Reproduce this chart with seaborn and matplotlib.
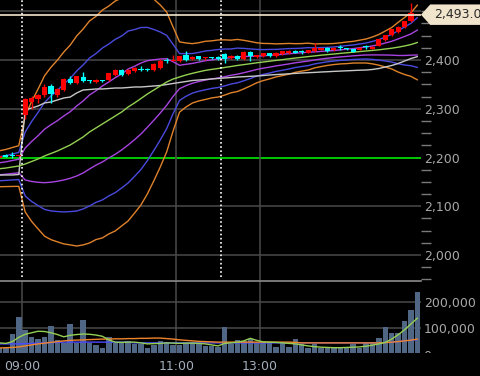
import numpy as np
import pandas as pd
import matplotlib
matplotlib.use("Agg")
import matplotlib.pyplot as plt
from matplotlib.patches import Polygon, Rectangle
from matplotlib.ticker import MultipleLocator, FixedLocator
from matplotlib.transforms import blended_transform_factory
import seaborn as sns

# 5-minute bars, numbered from the 09:00 open.
# -4..-1 = end of previous session, 0..30 = 09:00-11:30, 31..61 = 12:30-15:00
bar_no = np.arange(-4, 62)
time_ticks = [-0.5, 23.5, 36.5]
time_labels = ["09:00", "11:00", "13:00"]
session_breaks = [-0.5, 30.5]

opens = [2200, 2205, 2205, 2204,
         2287, 2314, 2320, 2328, 2347, 2328, 2338, 2361, 2353, 2365, 2358, 2355, 2358, 2359, 2369, 2379,
         2371, 2377, 2382, 2381, 2379, 2384, 2400, 2399, 2398, 2410, 2402, 2408, 2404, 2405, 2406,
         2412, 2404, 2408, 2402, 2416, 2406, 2408, 2414, 2408, 2412, 2414, 2418, 2417, 2415, 2418,
         2421, 2425, 2421, 2425, 2423, 2422, 2421, 2427, 2423, 2429, 2441, 2451, 2457, 2468, 2480, 2493]
highs = [2205, 2207, 2212, 2205,
         2322, 2326, 2330, 2350, 2350, 2342, 2363, 2367, 2368, 2375, 2360, 2362, 2359, 2374, 2381, 2381,
         2381, 2386, 2387, 2383, 2393, 2402, 2404, 2410, 2409, 2418, 2408, 2409, 2407, 2407, 2408,
         2414, 2410, 2410, 2418, 2418, 2411, 2415, 2415, 2416, 2419, 2420, 2420, 2420, 2421, 2435,
         2425, 2426, 2426, 2430, 2425, 2423, 2426, 2431, 2428, 2444, 2452, 2464, 2469, 2481, 2517, 2493]
lows = [2199, 2201, 2200, 2203,
        2280, 2300, 2312, 2325, 2312, 2325, 2336, 2350, 2351, 2355, 2352, 2353, 2355, 2357, 2368, 2367,
        2369, 2375, 2377, 2378, 2378, 2382, 2394, 2397, 2396, 2398, 2400, 2400, 2401, 2402, 2400,
        2394, 2402, 2400, 2400, 2398, 2405, 2407, 2407, 2407, 2411, 2413, 2414, 2413, 2414, 2417,
        2420, 2417, 2419, 2420, 2421, 2416, 2420, 2423, 2422, 2428, 2440, 2450, 2455, 2466, 2478, 2493]
closes = [2204, 2202, 2204, 2204,
          2320, 2322, 2328, 2345, 2330, 2340, 2361, 2353, 2367, 2357, 2356, 2359, 2357, 2373, 2379, 2369,
          2379, 2384, 2380, 2379, 2392, 2398, 2398, 2401, 2408, 2400, 2406, 2402, 2406, 2404, 2402,
          2402, 2408, 2402, 2416, 2408, 2410, 2414, 2408, 2415, 2418, 2419, 2415, 2416, 2420, 2425,
          2424, 2418, 2425, 2424, 2422, 2417, 2425, 2426, 2427, 2443, 2451, 2463, 2468, 2480, 2497, 2493]

bb_mid = [2177, 2178.5, 2180.6, 2182.6,
          2186.7, 2191.9, 2197.0, 2203.2, 2208.3, 2213.4, 2219.6, 2225.7, 2233.9, 2242.1, 2252.4,
          2260.6, 2268.8, 2277.0, 2285.2, 2293.4, 2303.6, 2311.9, 2321.1, 2330.3, 2338.5, 2346.7,
          2354.9, 2361.0, 2365.2, 2369.3, 2372.7, 2375.8, 2378.7, 2380.8, 2382.6,
          2384.7, 2386.7, 2388.8, 2390.6, 2392.4, 2394.3, 2395.9, 2397.5, 2399.2, 2400.8, 2402.5,
          2404.1, 2405.5, 2407.0, 2408.4, 2409.9, 2411.1, 2412.3, 2413.6, 2414.8, 2416.0, 2417.3,
          2418.5, 2419.7, 2420.9, 2422.6, 2424.2, 2426.3, 2428.8, 2431.8, 2436.0]
bb_sigma = [12.3, 12.7, 13.3, 13.9,
            32.8, 41.0, 47.8, 54.8, 58.9, 62.1, 65.6, 68.3, 71.8, 73.8, 75.9, 76.3, 77.9, 77.9,
            78.6, 77.9, 77.9, 75.3, 72.8, 68.3, 62.1, 55.4, 47.8, 35.5, 24.0, 21.9, 20.3, 19.9,
            19.9, 19.5, 19.5,
            18.9, 18.0, 17.8, 16.6, 15.2, 13.7, 12.7, 12.1, 11.3, 10.9, 10.5, 9.8, 9.4, 9.2, 8.2,
            7.8, 7.4, 7.2, 7.2, 7.4, 7.4, 7.8, 8.2, 9.2, 10.5, 12.3, 14.2, 17.0, 19.5, 21.8, 25.6]
# grey line (session VWAP-like average)
avg_line = [2164.0, 2164.2, 2164.2, 2165.2,
            2297.5, 2301.6, 2305.7, 2311.9, 2313.9, 2318.0, 2322.1, 2324.1, 2332.4, 2338.5, 2339.5,
            2340.6, 2340.6, 2341.6, 2342.6, 2342.6, 2343.6, 2344.7, 2344.7, 2345.7, 2346.7, 2347.8,
            2349.8, 2351.9, 2353.9, 2355.9, 2358.0, 2359.0, 2360.0, 2361.1, 2362.1,
            2363.1, 2364.1, 2365.2, 2365.8, 2366.6, 2367.2, 2368.2, 2369.3, 2370.1, 2370.9, 2371.7,
            2372.5, 2373.4, 2374.0, 2374.6, 2375.4, 2376.0, 2376.7, 2377.3, 2377.9, 2378.5, 2379.1,
            2379.5, 2380.6, 2382.6, 2385.7, 2388.8, 2392.9, 2398.0, 2403.1, 2407.0]

last_price = 2493.0

# volume (shares) and its three averages
volume = [19000, 19000, 75000, 141000,
          91000, 62000, 55000, 64000, 107000, 51000, 38000, 113000, 38000, 130000, 41000, 30000,
          21000, 62000, 38000, 38000, 47000, 34000, 36000, 21000, 32000, 49000, 42000, 32000, 32000,
          38000, 42000, 38000, 29000, 28000, 22000,
          101000, 36000, 51000, 49000, 54000, 38000, 38000, 45000, 25000, 45000, 25000, 55000, 36000,
          21000, 34000, 18000, 18000, 25000, 25000, 25000, 36000, 18000, 38000, 42000, 60000, 101000,
          78000, 80000, 126000, 170000, 242000]
vol_ma_green = [40000, 38000, 45000, 62000,
                74000, 80000, 86000, 85000, 80000, 73000, 64000, 70000, 73000, 75000, 74000, 71000,
                66000, 52000, 43000, 42000, 43000, 43000, 40000, 36000, 37000, 38000, 40000, 39000,
                38000, 39000, 39000, 38000, 36000, 32000, 28000,
                38000, 40000, 43000, 48000, 58000, 50000, 44000, 43000, 42000, 40000, 38000, 36000,
                32000, 28000, 25000, 23000, 22000, 21000, 21000, 22000, 23000, 24000, 27000, 31000,
                36000, 42000, 55000, 72000, 92000, 115000, 138000]
vol_ma_orange = [20000, 21000, 22000, 24000,
                 28000, 32000, 36000, 39000, 42000, 45000, 48000, 50000, 51000, 52000, 53000, 54000,
                 55000, 55000, 56000, 56000, 57000, 57000, 58000, 58000, 59000, 59000, 57000, 55000,
                 52000, 50000, 48000, 46000, 45000, 44000, 43000,
                 43000, 43000, 43000, 43000, 43000, 43000, 43000, 43000, 43000, 43000, 43000, 42000,
                 40000, 40000, 40000, 40000, 40000, 40000, 40000, 40000, 40000, 40000, 40000, 40000,
                 40000, 41000, 43000, 45000, 48000, 51000, 55000]
vol_ma_blue = [36000, 36000, 36000, 36000,
               37000, 38000, 39000, 40000, 41000, 42000, 43000, 43000, 43000, 43000, 43000, 43000,
               43000, 43000, 43000, 43000, 43000, 40000, 40000, 40000, 40000, 40000, 40000, 40000,
               40000, 40000, 40000, 40000, 40000, 40000, 40000,
               40000, 40000, 40000, 40000, 40000, 40000, 40000, 40000, 40000, 40000, 40000, 40000,
               40000, 40000, 40000, 40000, 40000, 40000, 40000, 40000, 40000, 40000, 40000, 40000,
               40000, 41000, 43000, 45000, 48000, 51000, 53000]

# colours
BG = "black"
GRID = "#4a4a4a"
TXT = "#a8a8a8"
UP = "#ff0000"
DOWN = "#00ffff"
ORANGE = "#e0822a"
BLUE = "#4a4ade"
PURPLE = "#a844e0"
GREEN = "#94d052"
GREY = "#c8c8c8"
VOLBAR = "#4f6784"

sns.set_style("dark", {"axes.facecolor": BG, "figure.facecolor": BG})
plt.rcParams["font.family"] = ["DejaVu Sans"]

fig = plt.figure(figsize=(4.8, 3.76), dpi=100)
ax = fig.add_axes([0, 96 / 376, 421 / 480, 280 / 376])
axv = fig.add_axes([0, 23 / 376, 421 / 480, 72 / 376])

xlim = (-3.92, 61.55)

# ---------- price panel ----------
for p in [2000, 2100, 2300, 2400, 2500]:
    ax.axhline(p, color=GRID, lw=1.1, zorder=1)
ax.axhline(2200, color="#00ff00", lw=1.1, zorder=1)
for t in time_ticks[1:]:
    ax.axvline(t, color=GRID, lw=1.1, zorder=1)

bands = pd.DataFrame({"bar": bar_no, "mid": bb_mid, "sigma": bb_sigma, "avg": avg_line})
for k, col in [(3, ORANGE), (2, BLUE), (1, PURPLE)]:
    for sgn in (1, -1):
        sns.lineplot(x=bands["bar"], y=bands["mid"] + sgn * k * bands["sigma"],
                     color=col, lw=1.0, ax=ax, zorder=2)
sns.lineplot(data=bands, x="bar", y="avg", color=GREY, lw=1.0, ax=ax, zorder=2)
sns.lineplot(data=bands, x="bar", y="mid", color=GREEN, lw=1.0, ax=ax, zorder=2)

# candles
o = np.array(opens, float)
c = np.array(closes, float)
cols = np.where(c >= o, UP, DOWN)
ax.vlines(bar_no, lows, highs, colors=cols, lw=1.0, zorder=4)
body_lo = np.minimum(o, c)
body_h = np.maximum(np.abs(c - o), 2.0)
ax.bar(bar_no, body_h, bottom=body_lo, width=0.8, color=cols, linewidth=0, zorder=5)

ax.axhline(last_price, color="#f3e6cc", lw=1.2, zorder=6)
for b in session_breaks:
    ax.axvline(b, ymin=0.012, ymax=1, color="white", lw=1.2, ls=(0, (1, 1.5)), zorder=7)

ax.set_xlim(*xlim)
ax.set_ylim(1948.8, 2523.1)
ax.set_xticks([])
ax.set_xlabel("")
ax.set_ylabel("")
ax.yaxis.tick_right()
ax.yaxis.set_major_locator(FixedLocator([2000, 2100, 2200, 2300, 2400]))
ax.set_yticklabels(["2,000", "2,100", "2,200", "2,300", "2,400"])
ax.yaxis.set_minor_locator(MultipleLocator(25))
ax.tick_params(axis="y", which="major", length=0, pad=2, labelsize=9, labelcolor=TXT)
ax.tick_params(axis="y", which="minor", length=7, width=1, color="#7a7a7a", direction="out")
for s in ax.spines.values():
    s.set_visible(False)

# price tag on the right
tr = blended_transform_factory(ax.transAxes, ax.transData)
tag = Polygon([(1.0, last_price), (1.022, last_price + 21), (1.15, last_price + 21),
               (1.15, last_price - 21), (1.022, last_price - 21)],
              closed=True, transform=tr, clip_on=False, facecolor="#f1e4cc",
              edgecolor="none", zorder=10)
ax.add_patch(tag)
ax.text(1.03, last_price, f"{last_price:,.1f}", transform=tr, ha="left", va="center",
        fontsize=9, color="#2a2a2a", clip_on=False, zorder=11)

# ---------- volume panel ----------
for v in [100000, 200000]:
    axv.axhline(v, color=GRID, lw=1.1, zorder=1)
for t in time_ticks:
    axv.axvline(t, color=GRID, lw=1.1, zorder=1)

vol_df = pd.DataFrame({"bar": bar_no, "volume": volume, "ma_g": vol_ma_green,
                       "ma_o": vol_ma_orange, "ma_b": vol_ma_blue})
sns.barplot(data=vol_df, x="bar", y="volume", native_scale=True, color=VOLBAR,
            saturation=1, width=0.85, errorbar=None, ax=axv, linewidth=0, zorder=2)
sns.lineplot(data=vol_df, x="bar", y="ma_b", color="#4a4aff", lw=1.0, ax=axv, zorder=3)
sns.lineplot(data=vol_df, x="bar", y="ma_o", color="#f0842a", lw=1.0, ax=axv, zorder=3)
sns.lineplot(data=vol_df, x="bar", y="ma_g", color=GREEN, lw=1.0, ax=axv, zorder=3)

axv.set_xlim(*xlim)
axv.set_ylim(0, 284600)
axv.set_xlabel("")
axv.set_ylabel("")
axv.set_xticks(time_ticks)
axv.set_xticklabels(time_labels)
axv.tick_params(axis="x", length=0, pad=5, labelsize=9, labelcolor="#a4afbd")
axv.yaxis.tick_right()
axv.set_yticks([100000, 200000])
axv.set_yticklabels(["100,000", "200,000"])
axv.tick_params(axis="y", length=0, pad=2, labelsize=9, labelcolor=TXT)
for name, s in axv.spines.items():
    s.set_visible(name == "top")
axv.spines["top"].set_color("#8c8c8c")
axv.spines["top"].set_linewidth(1.2)

# the "0" label sits partly below the panel and is cut off there
axv.text(1.005, -15000, "0", transform=blended_transform_factory(axv.transAxes, axv.transData),
         ha="left", va="center", fontsize=9, color=TXT, clip_on=False)
fig.add_artist(Rectangle((421 / 480, 0), 59 / 480, 23 / 376, transform=fig.transFigure,
                         facecolor=BG, edgecolor="none", zorder=10))

fig.savefig("out.png", dpi=100, facecolor=BG)
